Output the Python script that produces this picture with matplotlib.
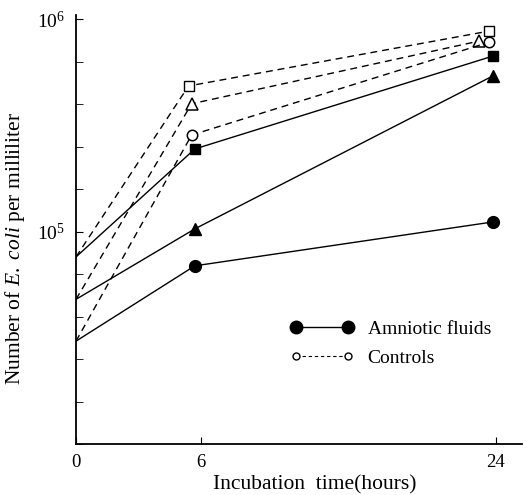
import numpy as np
import matplotlib.pyplot as plt
from matplotlib.lines import Line2D

plt.rcParams['font.family'] = ['Liberation Serif', 'DejaVu Serif']
plt.rcParams['mathtext.fontset'] = 'custom'
plt.rcParams['mathtext.rm'] = 'Liberation Serif'
plt.rcParams['mathtext.it'] = 'Liberation Serif:italic'

# hours where the points sit (axis is not linear)
t_amn = np.array([0, 5.7, 23.8])
t_ctl_sq = np.array([0, 5.4, 23.6])
t_ctl_ci = np.array([0, 5.55, 23.6])
t_ctl_tr = np.array([0, 5.55, 23.0])

# amniotic fluids (filled markers, solid lines)
amn_circle = [3.05e4, 6.9e4, 1.11e5]
amn_triangle = [4.8e4, 1.03e5, 5.4e5]
amn_square = [7.6e4, 2.45e5, 6.7e5]

# controls (open markers, dashed lines)
ctl_square = [7.6e4, 4.85e5, 8.8e5]
ctl_triangle = [4.8e4, 4.0e5, 7.9e5]
ctl_circle = [3.05e4, 2.85e5, 7.8e5]

xticks = [0, 6, 24]

# piecewise axis: hours -> drawn distance
knots_h = [0, 6, 24, 30]
knots_p = [0, 126, 423, 522]
fwd = lambda x: np.interp(x, knots_h, knots_p)
inv = lambda y: np.interp(y, knots_p, knots_h)

fig = plt.figure(figsize=(5.26, 4.95), dpi=100)
ax = fig.add_axes([76/526, 51/495, 446/526, 429/495])
ax.set_xscale('function', functions=(fwd, inv))
ax.set_yscale('log')

lw = 1.0
dash = (0, (5, 3.5))
me = [1, 2]  # no marker at time 0
ax.plot(t_amn, amn_circle, '-', color='black', lw=lw, marker='o', ms=8.5, markevery=me)
ax.plot(t_amn, amn_triangle, '-', color='black', lw=lw, marker='^', ms=9, markevery=me)
ax.plot(t_amn, amn_square, '-', color='black', lw=lw, marker='s', ms=6.5, markevery=me)

ax.plot(t_ctl_sq, ctl_square, color='black', lw=lw, ls=dash, marker='s', ms=6.5,
        mfc='white', mew=1, markevery=me)
ax.plot(t_ctl_tr, ctl_triangle, color='black', lw=lw, ls=dash, marker='^', ms=8,
        mfc='white', mew=1.1, markevery=me)
ax.plot(t_ctl_ci, ctl_circle, color='black', lw=lw, ls=dash, marker='o', ms=7.5,
        mfc='white', mew=1.1, markevery=me)

ax.set_xlim(0, 25.6)
ax.set_ylim(1e4, 10**6.02)

ax.spines['top'].set_visible(False)
ax.spines['right'].set_visible(False)
ax.spines['left'].set_linewidth(1.3)
ax.spines['bottom'].set_linewidth(1.3)

ax.set_xticks(xticks)
ax.set_xticklabels([str(x) for x in xticks])
ax.xaxis.set_minor_locator(plt.NullLocator())
ax.tick_params(axis='x', direction='in', length=5, labelsize=13.5, pad=7)

ax.set_yticks([1e5, 1e6])
ax.set_yticklabels(['$\\mathregular{10^5}$', '$\\mathregular{10^6}$'])
ax.set_yticks(10 ** np.arange(4, 6.01, 0.2), minor=True)
ax.yaxis.set_minor_formatter(plt.NullFormatter())
ax.tick_params(axis='y', which='both', direction='in', length=5, labelsize=14, pad=8)

ax.set_xlabel('Incubation  time(hours)', fontsize=15.5)
ax.set_ylabel('Number of $\\mathit{E.\\ coli}$ per milliliter', fontsize=15.5)
ax.xaxis.set_label_coords(0.536, -0.072)
ax.yaxis.set_label_coords(-0.11, 0.455)

h1 = Line2D([], [], color='black', lw=lw, marker='o', ms=9)
h2 = Line2D([], [], color='black', lw=0.8, ls=(0, (3, 2.5)), marker='o', ms=5,
            mfc='white', mew=1)
ax.legend([h1, h2], ['Amniotic fluids', 'Controls'], numpoints=2, frameon=False,
          handlelength=3.3, fontsize=14, loc='upper left',
          bbox_to_anchor=(0.44, 0.33), labelspacing=0.6, handletextpad=0.7)

plt.savefig('out.png', dpi=100)
